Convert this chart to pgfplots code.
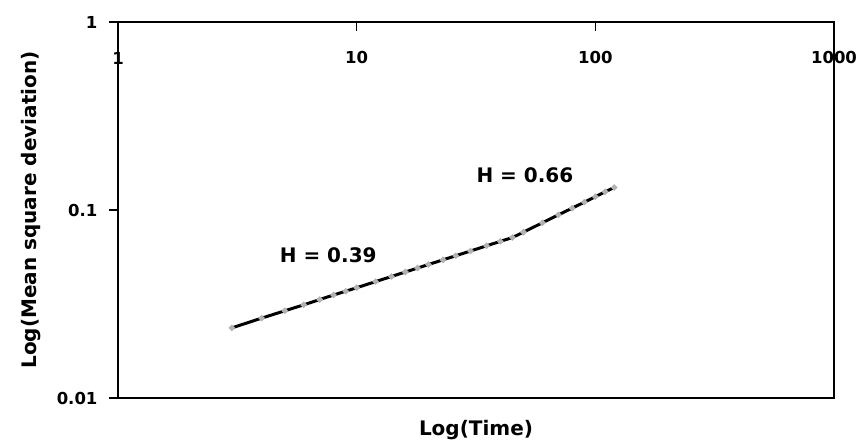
\documentclass[border=0pt]{standalone}
\usepackage{pgfplots}
\pgfplotsset{compat=1.18}
\usepackage{fontspec}
\setmainfont{DejaVu Sans}
\pgfplotstableread{
t msd
3 0.0236
4 0.0266
5 0.0291
6 0.0313
7 0.0334
8 0.0353
9 0.0370
10 0.0386
12 0.0416
14 0.0443
16 0.0468
18 0.0491
20 0.0513
23 0.0543
26 0.0571
30 0.0605
35 0.0645
40 0.0681
45 0.0714
50 0.0763
60 0.0855
70 0.0942
80 0.1023
90 0.1101
100 0.1177
110 0.1249
120 0.1318
}\msddata
\begin{document}
\begin{tikzpicture}
\useasboundingbox (0,0) rectangle (859pt,443pt);
\begin{axis}[
  at={(118pt,45pt)}, anchor=south west,
  scale only axis, width=716pt, height=376pt,
  xmode=log, ymode=log,
  xmin=1, xmax=1000, ymin=0.01, ymax=1,
  axis line style={line width=1.8pt},
  xtick={1,10,100,1000}, xticklabels={1,10,100,1000},
  ytick={0.01,0.1,1}, yticklabels={0.01,0.1,1},
  xminorticks=false, yminorticks=false,
  xtick pos=upper, xticklabel pos=upper,
  ytick pos=left,
  xtick align=inside, ytick align=outside,
  major tick length=9pt,
  tick style={line width=1.5pt, black},
  xticklabel style={anchor=center, yshift=-36pt, font=\fontsize{16.5}{19}\selectfont\bfseries},
  yticklabel style={font=\fontsize{16.5}{19}\selectfont\bfseries, xshift=-8pt},
  xlabel={Log(Time)},
  ylabel={Log(Mean square deviation)},
  xlabel style={font=\fontsize{20}{24}\selectfont\bfseries, at={(axis description cs:0.5,0)}, anchor=center, yshift=-32pt},
  ylabel style={font=\fontsize{20}{24}\selectfont\bfseries, at={(axis description cs:0,0.5)}, anchor=center, yshift=87pt},
  clip=false,
]
\addplot[black, line width=3pt, mark=*, mark size=1.3pt, mark options={fill=gray!60, draw=gray!60}] table[x=t, y=msd] {\msddata};
\node[font=\fontsize{20}{24}\selectfont\bfseries] at (axis cs:7.6,0.0577) {H = 0.39};
\node[font=\fontsize{20}{24}\selectfont\bfseries] at (axis cs:50.7,0.1535) {H = 0.66};
\end{axis}
\end{tikzpicture}
\end{document}
